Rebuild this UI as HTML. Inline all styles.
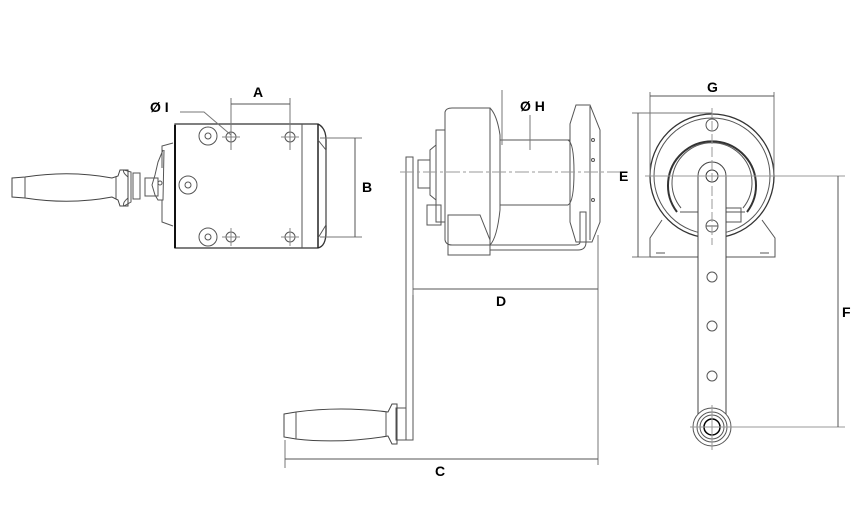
<!DOCTYPE html>
<html><head><style>html,body{margin:0;padding:0;background:#fff}svg{display:block}text{font-family:"Liberation Sans",sans-serif;font-weight:bold;font-size:14px;fill:#000}</style></head>
<body>
<svg width="860" height="520" viewBox="0 0 860 520" xmlns="http://www.w3.org/2000/svg">
<g fill="none" stroke="#555" stroke-width="1">
<!-- LEFT VIEW -->
<path d="M175,124 H318 Q326,128 326,140 V232 Q326,246 318,248 H175 Z" stroke="#333" stroke-width="1.3"/>
<line x1="302" y1="124" x2="302" y2="248"/>
<line x1="318" y1="124" x2="318" y2="248" stroke="#222" stroke-width="1.5"/>
<path d="M318,140 L326,150 L326,225 L318,238"/>
<circle cx="208" cy="136" r="9"/><circle cx="208" cy="136" r="3"/>
<circle cx="208" cy="237" r="9"/><circle cx="208" cy="237" r="3"/>
<circle cx="188" cy="185" r="9"/><circle cx="188" cy="185" r="3"/>
<circle cx="231" cy="137" r="5"/><circle cx="290" cy="137" r="5"/>
<circle cx="231" cy="237" r="5"/><circle cx="290" cy="237" r="5"/>
<path d="M222,137 H240 M231,128 V146 M281,137 H299 M290,128 V146 M222,237 H240 M231,228 V246 M281,237 H299 M290,228 V246" stroke="#888"/>
<line x1="175" y1="125" x2="175" y2="248" stroke="#111" stroke-width="2"/>
<path d="M173,143 L162,146 V168 M162,200 V222 L173,226"/>
<path d="M163,150 L158,162 L155,175 L152,185 L155,195 L158,200 L163,200 L164,150"/>
<path d="M145,178 H158 V196 H145 Z"/>
<path d="M133,173 H140 V199 H133 Z"/>
<path d="M128,177 Q122,172 124,170 L131,172 V202 L124,206 Q122,203 128,198"/>
<path d="M12,178 L25,177 Q70,170 112,178 L118,176 L120,170 H128 V206 H120 L118,200 L112,197 Q70,205 25,198 L12,197 Z" stroke="#444"/>
<line x1="25" y1="177" x2="25" y2="198"/><line x1="116" y1="177" x2="116" y2="199"/>
<circle cx="160" cy="183" r="2"/>
<path d="M231,98 V150 M290,98 V150" stroke="#777"/>
<line x1="231" y1="104" x2="290" y2="104"/>
<path d="M180,112 H204 L231,135" stroke="#777"/>
<path d="M320,138 H362 M320,237 H362" stroke="#777"/>
<line x1="355" y1="138" x2="355" y2="237"/>

<!-- MIDDLE VIEW -->
<path d="M445,112 Q446,108 452,108 H490 V245 H452 Q446,245 445,240 Z"/>
<path d="M490,108 Q497,115 500,135 V210 Q497,238 490,245"/>
<line x1="500" y1="140" x2="570" y2="140"/>
<line x1="500" y1="205" x2="568" y2="205"/>
<path d="M568,140 Q574,143 574,172 Q574,202 568,205"/>
<path d="M576,105 H590 L600,130 V222 L592,242 H576 L570,222 V124 Z"/>
<line x1="590" y1="106" x2="590" y2="240"/>
<circle cx="593" cy="140" r="1.5"/><circle cx="593" cy="160" r="1.5"/><circle cx="593" cy="200" r="1.5"/>
<path d="M445,130 H436 V222 H445"/>
<path d="M436,145 L430,150 V195 L436,200"/>
<path d="M430,160 H418 V188 H430"/>
<path d="M427,205 H441 V225 H427 Z"/>
<path d="M448,215 H480 L490,240 V255 H448 Z"/>
<path d="M490,250 H578 Q586,250 586,242 V212 H580 V242 Q580,245 575,245 H490"/>
<path d="M406,157 H413 V440 H406 Z"/>
<path d="M396,408 H406 V440 H396 Z"/>
<path d="M284,414 L296,412 Q340,406 388,412 L392,404 H397 V444 H392 L388,436 Q340,444 296,439 L284,437 Z" stroke="#444"/>
<line x1="296" y1="412" x2="296" y2="439"/><line x1="386" y1="412" x2="386" y2="436"/>
<line x1="400" y1="172" x2="620" y2="172" stroke="#999" stroke-dasharray="14,3,3,3"/>
<path d="M502,90 V145 M598,235 V465 M413,280 V295" stroke="#777"/>
<line x1="413" y1="289" x2="598" y2="289"/>
<line x1="530" y1="115" x2="530" y2="150" stroke="#777"/>
<path d="M285,440 V468" stroke="#777"/>
<line x1="285" y1="459" x2="598" y2="459"/>

<!-- RIGHT VIEW -->
<circle cx="712" cy="176" r="62" stroke="#333" stroke-width="1.3"/>
<circle cx="712" cy="176" r="58"/>
<path d="M677,212 A44,44 0 1 1 747,212" stroke="#333" stroke-width="2"/>
<path d="M681,208 A40,40 0 1 1 743,208"/>
<path d="M662,220 L650,238 V257 H775 V238 L762,220"/>
<path d="M656,253 H665 M760,253 H769"/>
<path d="M680,212 H745 M726,208 H741 V222 H726"/>
<path d="M698,420 V176 A14,14 0 0 1 726,176 V420" fill="#fff" stroke="#444"/>
<circle cx="712" cy="176" r="6" stroke="#333"/>
<circle cx="712" cy="125" r="6"/>
<circle cx="712" cy="226" r="6"/><line x1="706" y1="226" x2="718" y2="226"/>
<circle cx="712" cy="277" r="5"/><circle cx="712" cy="326" r="5"/><circle cx="712" cy="376" r="5"/>
<circle cx="712" cy="427" r="19" fill="#fff"/><circle cx="712" cy="427" r="15"/><circle cx="712" cy="427" r="12"/>
<circle cx="712" cy="427" r="8" stroke="#000" stroke-width="1.5"/>
<line x1="712" y1="108" x2="712" y2="245" stroke="#999" stroke-dasharray="10,3"/>
<line x1="645" y1="176" x2="845" y2="176" stroke="#999"/>
<line x1="690" y1="427" x2="845" y2="427" stroke="#999"/>
<line x1="712" y1="405" x2="712" y2="450" stroke="#999"/>
<path d="M650,92 V176 M774,92 V176" stroke="#777"/>
<line x1="650" y1="96" x2="774" y2="96"/>
<path d="M632,113 H712 M632,257 H650" stroke="#777"/>
<line x1="638" y1="113" x2="638" y2="257"/>
<line x1="838" y1="176" x2="838" y2="427"/>
</g>
<text x="253" y="97">A</text>
<text x="150" y="112">Ø I</text>
<text x="362" y="192">B</text>
<text x="520" y="111">Ø H</text>
<text x="496" y="306">D</text>
<text x="435" y="476">C</text>
<text x="707" y="92">G</text>
<text x="619" y="181">E</text>
<text x="842" y="317">F</text>
</svg>
</body></html>
